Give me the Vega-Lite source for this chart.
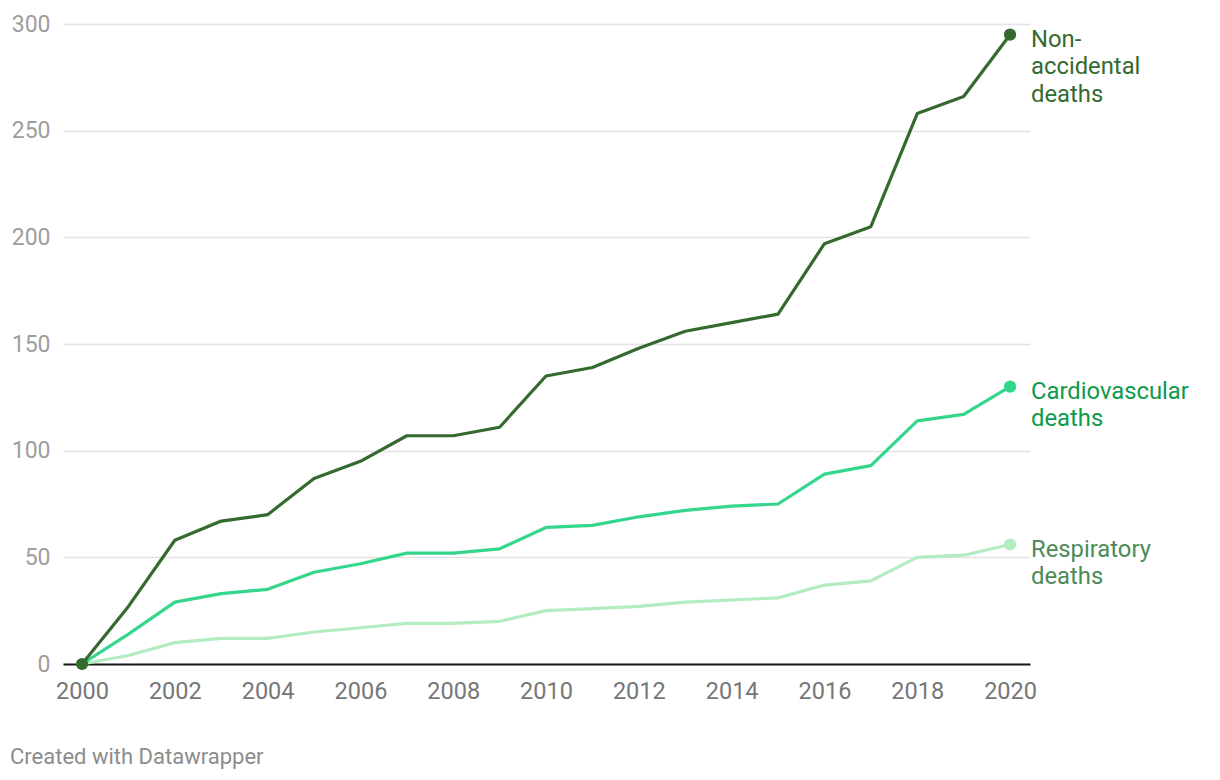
{
  "$schema": "https://vega.github.io/schema/vega-lite/v6.json",
  "width": 967,
  "height": 640,
  "autosize": {"type": "none"},
  "padding": {"left": 63, "top": 24, "right": 190, "bottom": 116},
  "background": "#ffffff",
  "config": {
    "view": {"stroke": null},
    "font": "Roboto",
    "text": {"font": "Roboto"}
  },
  "title": {
    "text": "Created with Datawrapper",
    "orient": "bottom",
    "anchor": "start",
    "frame": "group",
    "dx": -53,
    "offset": 44,
    "font": "Roboto",
    "fontSize": 22,
    "fontWeight": "normal",
    "color": "#8c8c8c"
  },
  "datasets": {
    "series": [
      {"series": "Respiratory", "year": 2000, "value": 0},
      {"series": "Respiratory", "year": 2001, "value": 4},
      {"series": "Respiratory", "year": 2002, "value": 10},
      {"series": "Respiratory", "year": 2003, "value": 12},
      {"series": "Respiratory", "year": 2004, "value": 12},
      {"series": "Respiratory", "year": 2005, "value": 15},
      {"series": "Respiratory", "year": 2006, "value": 17},
      {"series": "Respiratory", "year": 2007, "value": 19},
      {"series": "Respiratory", "year": 2008, "value": 19},
      {"series": "Respiratory", "year": 2009, "value": 20},
      {"series": "Respiratory", "year": 2010, "value": 25},
      {"series": "Respiratory", "year": 2011, "value": 26},
      {"series": "Respiratory", "year": 2012, "value": 27},
      {"series": "Respiratory", "year": 2013, "value": 29},
      {"series": "Respiratory", "year": 2014, "value": 30},
      {"series": "Respiratory", "year": 2015, "value": 31},
      {"series": "Respiratory", "year": 2016, "value": 37},
      {"series": "Respiratory", "year": 2017, "value": 39},
      {"series": "Respiratory", "year": 2018, "value": 50},
      {"series": "Respiratory", "year": 2019, "value": 51},
      {"series": "Respiratory", "year": 2020, "value": 56},
      {"series": "Cardiovascular", "year": 2000, "value": 0},
      {"series": "Cardiovascular", "year": 2001, "value": 14},
      {"series": "Cardiovascular", "year": 2002, "value": 29},
      {"series": "Cardiovascular", "year": 2003, "value": 33},
      {"series": "Cardiovascular", "year": 2004, "value": 35},
      {"series": "Cardiovascular", "year": 2005, "value": 43},
      {"series": "Cardiovascular", "year": 2006, "value": 47},
      {"series": "Cardiovascular", "year": 2007, "value": 52},
      {"series": "Cardiovascular", "year": 2008, "value": 52},
      {"series": "Cardiovascular", "year": 2009, "value": 54},
      {"series": "Cardiovascular", "year": 2010, "value": 64},
      {"series": "Cardiovascular", "year": 2011, "value": 65},
      {"series": "Cardiovascular", "year": 2012, "value": 69},
      {"series": "Cardiovascular", "year": 2013, "value": 72},
      {"series": "Cardiovascular", "year": 2014, "value": 74},
      {"series": "Cardiovascular", "year": 2015, "value": 75},
      {"series": "Cardiovascular", "year": 2016, "value": 89},
      {"series": "Cardiovascular", "year": 2017, "value": 93},
      {"series": "Cardiovascular", "year": 2018, "value": 114},
      {"series": "Cardiovascular", "year": 2019, "value": 117},
      {"series": "Cardiovascular", "year": 2020, "value": 130},
      {"series": "Non-accidental", "year": 2000, "value": 0},
      {"series": "Non-accidental", "year": 2001, "value": 27},
      {"series": "Non-accidental", "year": 2002, "value": 58},
      {"series": "Non-accidental", "year": 2003, "value": 67},
      {"series": "Non-accidental", "year": 2004, "value": 70},
      {"series": "Non-accidental", "year": 2005, "value": 87},
      {"series": "Non-accidental", "year": 2006, "value": 95},
      {"series": "Non-accidental", "year": 2007, "value": 107},
      {"series": "Non-accidental", "year": 2008, "value": 107},
      {"series": "Non-accidental", "year": 2009, "value": 111},
      {"series": "Non-accidental", "year": 2010, "value": 135},
      {"series": "Non-accidental", "year": 2011, "value": 139},
      {"series": "Non-accidental", "year": 2012, "value": 148},
      {"series": "Non-accidental", "year": 2013, "value": 156},
      {"series": "Non-accidental", "year": 2014, "value": 160},
      {"series": "Non-accidental", "year": 2015, "value": 164},
      {"series": "Non-accidental", "year": 2016, "value": 197},
      {"series": "Non-accidental", "year": 2017, "value": 205},
      {"series": "Non-accidental", "year": 2018, "value": 258},
      {"series": "Non-accidental", "year": 2019, "value": 266},
      {"series": "Non-accidental", "year": 2020, "value": 295}
    ],
    "labels": [
      {"series": "Respiratory", "year": 2020, "value": 56, "label": "Respiratory\ndeaths"},
      {"series": "Cardiovascular", "year": 2020, "value": 130, "label": "Cardiovascular\ndeaths"},
      {"series": "Non-accidental", "year": 2020, "value": 295, "label": "Non-\naccidental\ndeaths"}
    ]
  },
  "encoding": {
    "x": {
      "field": "year",
      "type": "quantitative",
      "scale": {"domain": [1999.59, 2020.43], "nice": false, "zero": false},
      "axis": {
        "title": null,
        "values": [2000, 2002, 2004, 2006, 2008, 2010, 2012, 2014, 2016, 2018, 2020],
        "format": "d",
        "grid": false,
        "ticks": false,
        "tickSize": 0,
        "domain": true,
        "domainColor": "#1a1a1a",
        "domainWidth": 2,
        "labelFont": "Roboto",
        "labelFontSize": 23.5,
        "labelColor": "#777777",
        "labelPadding": 15,
        "labelBaseline": "top",
        "labelFlush": false,
        "labelOverlap": false
      }
    },
    "y": {
      "field": "value",
      "type": "quantitative",
      "scale": {"domain": [0, 300], "nice": false},
      "axis": {
        "title": null,
        "values": [0, 50, 100, 150, 200, 250, 300],
        "grid": true,
        "gridColor": "#e3e3e3",
        "gridWidth": 1.5,
        "ticks": false,
        "tickSize": 0,
        "domain": false,
        "labelFont": "Roboto",
        "labelFontSize": 23,
        "labelColor": "#9e9e9e",
        "labelPadding": 13,
        "labelBaseline": "middle",
        "labelFlush": false
      }
    }
  },
  "layer": [
    {
      "data": {"name": "series"},
      "mark": {"type": "line", "strokeWidth": 3.2, "strokeJoin": "round", "strokeCap": "round"},
      "encoding": {
        "color": {
          "field": "series",
          "type": "nominal",
          "scale": {"domain": ["Respiratory", "Cardiovascular", "Non-accidental"], "range": ["#b3ecc1", "#33d68b", "#356a2e"]},
          "legend": null
        },
        "order": {"field": "year", "type": "quantitative"}
      }
    },
    {
      "data": {"name": "series"},
      "transform": [{"filter": "datum.year == 2020 || (datum.year == 2000 && datum.series == 'Non-accidental')"}],
      "mark": {"type": "point", "filled": true, "opacity": 1, "size": 150},
      "encoding": {
        "color": {
          "field": "series",
          "type": "nominal",
          "scale": {"domain": ["Respiratory", "Cardiovascular", "Non-accidental"], "range": ["#b3ecc1", "#33d68b", "#356a2e"]},
          "legend": null
        }
      }
    },
    {
      "data": {"name": "labels"},
      "mark": {"type": "text", "align": "left", "baseline": "alphabetic", "dx": 21, "dy": 12, "font": "Roboto", "fontSize": 23.8, "lineBreak": "\n", "lineHeight": 27.5},
      "encoding": {
        "text": {"field": "label"},
        "color": {
          "field": "series",
          "type": "nominal",
          "scale": {"domain": ["Respiratory", "Cardiovascular", "Non-accidental"], "range": ["#4c8a58", "#0e9a4c", "#356a2e"]},
          "legend": null
        }
      }
    }
  ],
  "resolve": {"scale": {"color": "independent"}}
}
